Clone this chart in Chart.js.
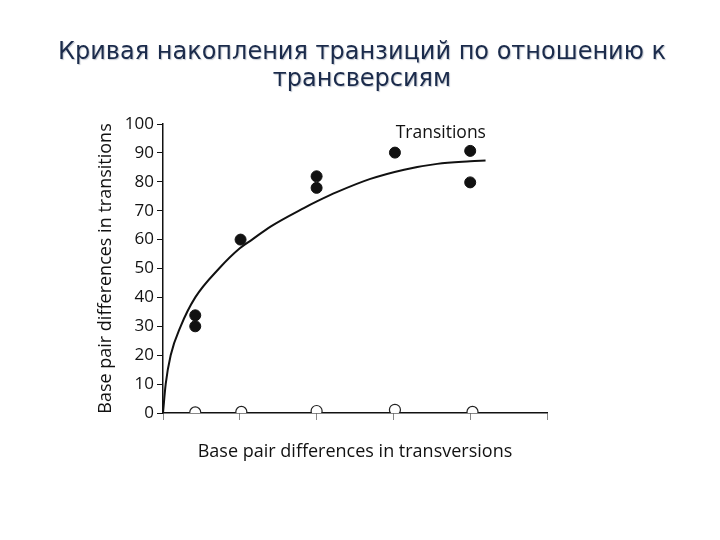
<!DOCTYPE html>
<html>
<head>
<meta charset="utf-8">
<script src="https://cdn.jsdelivr.net/npm/chart.js@4"></script>
<style>
  body { margin: 0; background: #fff; }
</style>
</head>
<body>
<canvas id="myChart" width="720" height="540"></canvas>
<script>
/*---------------------------- data ------------------------------------*/
var titleLines = ["Кривая накопления транзиций по отношению к", "трансверсиям"];

// filled dots: transitions
var transX = [0.42, 0.42, 1.01, 2.0, 2.0, 3.02, 4.0, 4.0];
var transY = [33.8, 30.0, 60.0, 81.9, 77.9, 90.1, 90.7, 79.8];

// open dots: transversions
var tvX = [0.42, 1.02, 2.0, 3.02, 4.03];
var tvY = [0.2, 0.4, 0.7, 1.1, 0.4];

// fitted curve
var curveX = [0, 0.035, 0.10, 0.23, 0.42, 0.73, 1.0, 1.16, 1.40, 1.84, 2.01, 2.27, 2.70, 3.14, 3.57, 4.0, 4.2];
var curveY = [0, 10, 20, 30, 40, 50, 57, 60, 64.5, 71, 73.3, 76.5, 81, 84.2, 86.2, 87.1, 87.4];

function pts(xs, ys) {
  return xs.map(function (x, i) { return { x: x, y: ys[i] }; });
}

var labelFont = "'Open Sans', 'DejaVu Sans', sans-serif";

// slide title and the "Transitions" label near the curve
var texts = {
  id: "texts",
  afterDraw: function (chart) {
    var ctx = chart.ctx;
    ctx.save();
    ctx.font = "24px 'DejaVu Sans', sans-serif";
    ctx.fillStyle = "#1b2b4b";
    ctx.textAlign = "center";
    ctx.textBaseline = "alphabetic";
    ctx.shadowColor = "rgba(120,130,150,0.45)";
    ctx.shadowOffsetX = 1;
    ctx.shadowOffsetY = 1;
    ctx.shadowBlur = 1;
    ctx.fillText(titleLines[0], 362, 59);
    ctx.fillText(titleLines[1], 362, 86);
    ctx.shadowColor = "transparent";

    var x = chart.scales.x.getPixelForValue(3.03);
    var y = chart.scales.y.getPixelForValue(97);
    ctx.font = "17.5px " + labelFont;
    ctx.fillStyle = "#111";
    ctx.textAlign = "left";
    ctx.textBaseline = "middle";
    ctx.fillText("Transitions", x, y);
    ctx.restore();
  }
};

new Chart("myChart", {
  type: "scatter",
  data: {
    datasets: [{
      data: pts(curveX, curveY),
      showLine: true,
      borderColor: "#111",
      borderWidth: 2,
      pointRadius: 0,
      cubicInterpolationMode: "monotone",
      fill: false
    },
    {
      data: pts(transX, transY),
      backgroundColor: "#111",
      borderColor: "#111",
      pointRadius: 5.5
    },
    {
      data: pts(tvX, tvY),
      backgroundColor: "#fff",
      borderColor: "#222",
      borderWidth: 1.2,
      pointRadius: 5.5
    }]
  },
  options: {
    responsive: false,
    animation: false,
    layout: { padding: { left: 95, right: 173, top: 124, bottom: 77 } },
    plugins: {
      legend: { display: false },
      tooltip: { enabled: false },
      title: { display: false }
    },
    scales: {
      x: {
        type: "linear",
        min: 0,
        max: 5,
        afterFit: function (s) { s.height = 50; },
        border: { color: "#111", width: 1.5 },
        grid: { drawOnChartArea: false, drawTicks: true, tickLength: 7, color: "#888", lineWidth: 1 },
        ticks: { stepSize: 1, callback: function () { return ""; } },
        title: {
          display: true,
          text: "Base pair differences in transversions",
          color: "#111",
          font: { family: labelFont, size: 18 },
          padding: { top: 4, bottom: 0 }
        }
      },
      y: {
        min: 0,
        max: 100,
        afterFit: function (s) { s.width = 68; },
        border: { color: "#111", width: 1.5 },
        grid: { drawOnChartArea: false, drawTicks: true, tickLength: 6, color: "#111", lineWidth: 1 },
        ticks: { stepSize: 10, color: "#111", padding: 3, font: { family: labelFont, size: 17 } },
        title: {
          display: true,
          text: "Base pair differences in transitions",
          color: "#111",
          font: { family: labelFont, size: 18 },
          padding: { top: 0, bottom: 4 }
        }
      }
    }
  },
  plugins: [texts]
});
</script>
</body>
</html>
